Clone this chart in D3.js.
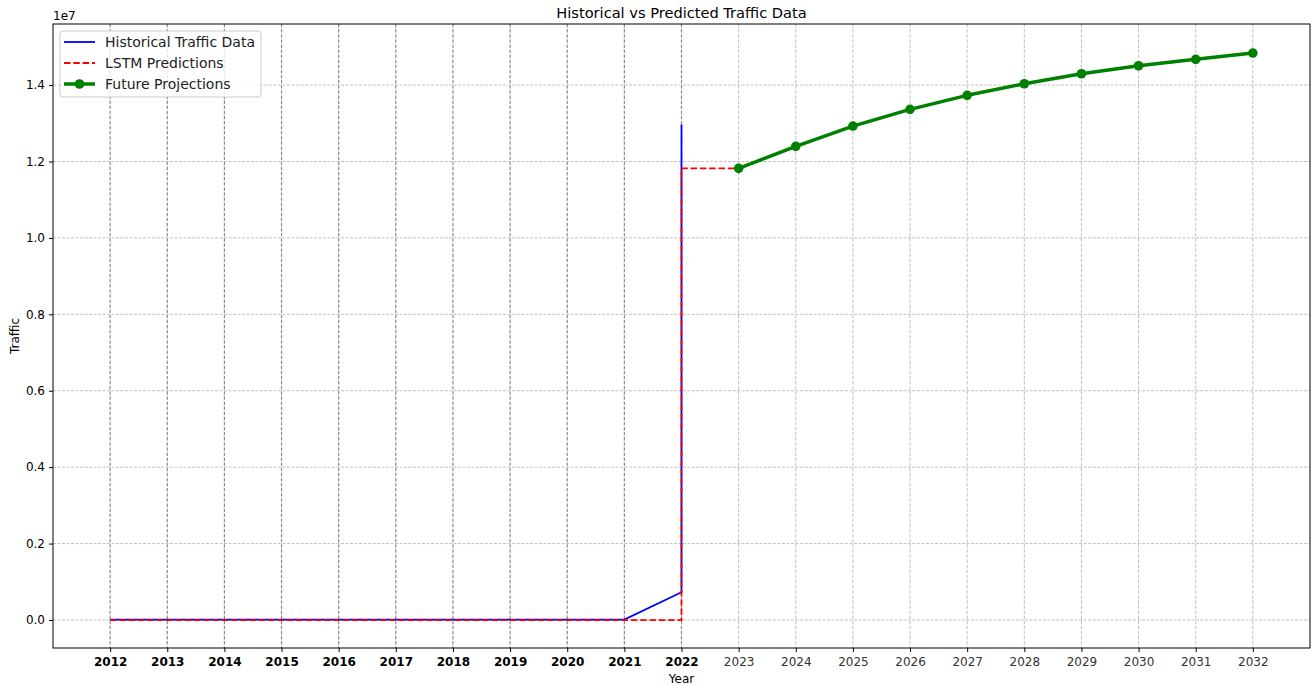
<!DOCTYPE html>
<html>
<head>
<meta charset="utf-8">
<script src="https://cdn.jsdelivr.net/npm/d3@7"></script>
<style>
  body { margin: 0; background: #fff; }
  svg text { font-family: "DejaVu Sans", sans-serif; fill: #000; }
</style>
</head>
<body>
<svg id="chart" width="1314" height="686"></svg>
<script>
// historical data: two points at 2022 (yearly value, then latest)
const histYears = [2012, 2013, 2014, 2015, 2016, 2017, 2018, 2019, 2020, 2021, 2022, 2022];
const histValues = [9000, 10000, 10000, 9000, 11000, 10000, 11000, 10000, 9000, 10000, 725000, 12970000];

const lstmYears = [2012, 2013, 2014, 2015, 2016, 2017, 2018, 2019, 2020, 2021, 2022, 2022, 2023];
const lstmValues = [-5000, -5000, -5000, -5000, -5000, -5000, -5000, -5000, -5000, -5000, -5000, 11820000, 11820000];

const futureYears = [2023, 2024, 2025, 2026, 2027, 2028, 2029, 2030, 2031, 2032];
const futureValues = [11820000, 12396000, 12927000, 13364000, 13731000, 14034000, 14296000, 14505000, 14673000, 14838000];

const tickYears = [2012, 2013, 2014, 2015, 2016, 2017, 2018, 2019, 2020, 2021, 2022, 2023, 2024, 2025, 2026, 2027, 2028, 2029, 2030, 2031, 2032];
const yTicks = [0, 2e6, 4e6, 6e6, 8e6, 10e6, 12e6, 14e6];

const margin = {left: 53, right: 4, top: 24, bottom: 38};
const width = 1314, height = 686;

const svg = d3.select("#chart");

const x = d3.scaleLinear()
    .domain([2011, 2033])
    .range([margin.left, width - margin.right]);
const y = d3.scaleLinear()
    .domain([-0.0733e7, 1.5598e7])
    .range([height - margin.bottom, margin.top]);

// grid
const grid = svg.append("g");
grid.selectAll("line.gy")
    .data(yTicks)
    .enter()
    .append("line")
    .attr("x1", margin.left).attr("x2", width - margin.right)
    .attr("y1", d => y(d)).attr("y2", d => y(d))
    .attr("stroke", "#b0b0b0")
    .attr("stroke-width", 0.8)
    .attr("stroke-dasharray", "3,1.5");
grid.selectAll("line.gx")
    .data(tickYears)
    .enter()
    .append("line")
    .attr("x1", d => x(d)).attr("x2", d => x(d))
    .attr("y1", margin.top).attr("y2", height - margin.bottom)
    .attr("stroke", d => d <= 2022 ? "#8c8c8c" : "#b0b0b0")
    .attr("stroke-width", d => d <= 2022 ? 1.2 : 0.8)
    .attr("stroke-dasharray", "3.5,1.6");

// axes
const xAxis = svg.append("g")
    .attr("transform", "translate(0," + (height - margin.bottom) + ")")
    .call(d3.axisBottom(x).tickValues(tickYears).tickFormat(d3.format("d")).tickSize(4).tickPadding(5));
xAxis.select(".domain").remove();
xAxis.selectAll("text")
    .style("font-size", "12px")
    .style("font-weight", d => d <= 2022 ? "bold" : "normal")
    .style("fill", d => d <= 2022 ? "#000" : "#333");

const yAxis = svg.append("g")
    .attr("transform", "translate(" + margin.left + ",0)")
    .call(d3.axisLeft(y).tickValues(yTicks).tickFormat(d => (d / 1e7).toFixed(1)).tickSize(4).tickPadding(4));
yAxis.select(".domain").remove();
yAxis.selectAll("text").style("font-size", "12px");

// lines
const line = d3.line()
    .x(d => x(d[0]))
    .y(d => y(d[1]));

const hist = d3.zip(histYears, histValues);
const lstm = d3.zip(lstmYears, lstmValues);
const future = d3.zip(futureYears, futureValues);

svg.append("path")
    .attr("d", line(hist))
    .attr("fill", "none")
    .attr("stroke", "#0000ff")
    .attr("stroke-width", 1.8);

svg.append("path")
    .attr("d", line(lstm))
    .attr("fill", "none")
    .attr("stroke", "#ff0000")
    .attr("stroke-width", 1.8)
    .attr("stroke-dasharray", "6.5,2.8");

svg.append("path")
    .attr("d", line(future))
    .attr("fill", "none")
    .attr("stroke", "#008000")
    .attr("stroke-width", 3.5)
    .attr("stroke-linejoin", "round");

svg.selectAll("circle.future")
    .data(future)
    .enter()
    .append("circle")
    .attr("cx", d => x(d[0]))
    .attr("cy", d => y(d[1]))
    .attr("r", 4.8)
    .attr("fill", "#008000");

// frame
svg.append("rect")
    .attr("x", margin.left).attr("y", margin.top)
    .attr("width", width - margin.left - margin.right)
    .attr("height", height - margin.top - margin.bottom)
    .attr("fill", "none")
    .attr("stroke", "#000")
    .attr("stroke-width", 1);

// texts
svg.append("text")
    .attr("x", (margin.left + width - margin.right) / 2)
    .attr("y", 18)
    .attr("text-anchor", "middle")
    .style("font-size", "14.6px")
    .text("Historical vs Predicted Traffic Data");

svg.append("text")
    .attr("x", (margin.left + width - margin.right) / 2)
    .attr("y", 683)
    .attr("text-anchor", "middle")
    .style("font-size", "12px")
    .text("Year");

svg.append("text")
    .attr("transform", "translate(19," + ((margin.top + height - margin.bottom) / 2) + ") rotate(-90)")
    .attr("text-anchor", "middle")
    .style("font-size", "12px")
    .text("Traffic");

svg.append("text")
    .attr("x", margin.left)
    .attr("y", 20)
    .style("font-size", "12px")
    .text("1e7");

// legend
const legendItems = [
    {label: "Historical Traffic Data", color: "#0000ff", dash: null, w: 1.8, marker: false},
    {label: "LSTM Predictions", color: "#ff0000", dash: "6.5,2.8", w: 1.8, marker: false},
    {label: "Future Projections", color: "#008000", dash: null, w: 3.5, marker: true}
];
const legend = svg.append("g").attr("transform", "translate(60,31)");
legend.append("rect")
    .attr("width", 201).attr("height", 66)
    .attr("rx", 3)
    .attr("fill", "#fff").attr("fill-opacity", 0.8)
    .attr("stroke", "#cccccc");
const li = legend.selectAll("g.item")
    .data(legendItems)
    .enter()
    .append("g")
    .attr("transform", (d, i) => "translate(0," + (11 + i * 21) + ")");
li.append("line")
    .attr("x1", 4).attr("x2", 35)
    .attr("stroke", d => d.color)
    .attr("stroke-width", d => d.w)
    .attr("stroke-dasharray", d => d.dash);
li.filter(d => d.marker).append("circle")
    .attr("cx", 19.5).attr("r", 4.8)
    .attr("fill", d => d.color);
li.append("text")
    .attr("x", 45)
    .attr("dy", "0.35em")
    .style("font-size", "14px")
    .style("fill", "#222")
    .text(d => d.label);
</script>
</body>
</html>
